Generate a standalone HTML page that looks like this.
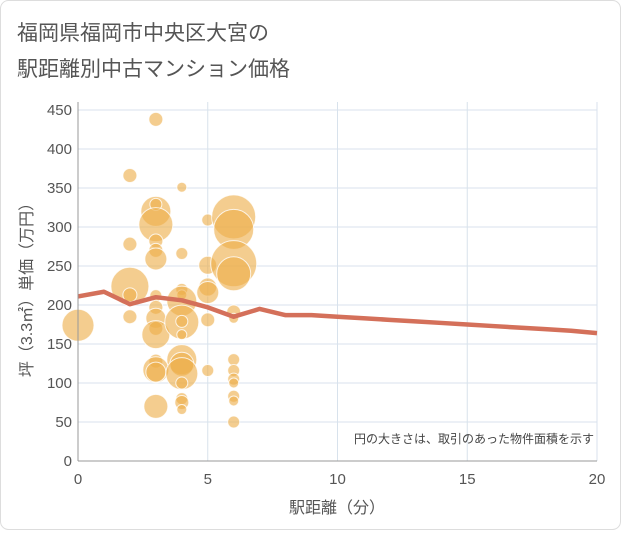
<!DOCTYPE html>
<html><head><meta charset="utf-8"><style>
body{margin:0;background:#fff;}
#c{position:relative;width:621px;height:530px;font-family:"Liberation Sans","Noto Sans CJK JP",sans-serif;}
svg text{font-family:"Liberation Sans","Noto Sans CJK JP",sans-serif;}
</style></head><body>
<div id="c">
<svg id="s" width="621" height="530">
<rect x="0.5" y="0.5" width="620" height="529" rx="8" fill="#fff" stroke="#ddd"/>
<text x="17" y="40" font-size="21" fill="#555">福岡県福岡市中央区大宮の</text>
<text x="17" y="76" font-size="21" fill="#555">駅距離別中古マンション価格</text>
<g id="grid"></g><g id="bub"></g><g id="ln"></g><g id="ax"></g>
<text x="594" y="443" font-size="12" fill="#444" text-anchor="end">円の大きさは、取引のあった物件面積を示す</text>
<text x="337" y="513" font-size="16" fill="#555" text-anchor="middle">駅距離（分）</text>
<text transform="translate(32,286) rotate(-90)" font-size="16" fill="#555" text-anchor="middle">坪（3.3㎡）単価（万円）</text>
</svg></div>
<script>
const xTicks=[0,5,10,15,20];
const yTicks=[0,50,100,150,200,250,300,350,400,450];
const bubbleX=[3,2,4,3,3,3,2,3,3,3,4,5,5,6,6,6,6,2,2,2,3,3,3,3,3,3,4,4,4,4,4,4,5,5,5,5,6,6,0,3,3,3,4,4,4,4,4,4,4,6,6,6,6,6,6,6];
const bubbleY=[438,366,351,320,329,303,278,282,270,259,266,309,251,313,297,253,240,224,213,185,212,197,183,170,162,128,220,213,205,178,179,162,223,216,181,116,191,183,174,117,114,70,130,124,112,100,80,75,66,130,116,105,100,83,77,50];
const bubbleR=[7,7,5,15,6,17,7,7,7,11,6,6,9,22,20,23,17,19,7,7,6,7,10,7,14,7,6,5,15,17,6,5,9,11,7,6,7,5,16,13,10,12,15,12,16,6,6,7,5,6,6,6,5,6,5,6];
const lineX=[0,1,2,3,4,5,6,7,8,9,10,11,12,13,14,15,16,17,18,19,20];
const lineY=[211,217,201,210,206,197,185,195,187,187,185,183,181,179,177,175,173,171,169,167,164];
const X0=78,X1=597,Y0=461,Y1=110;
const sx=v=>X0+(X1-X0)*v/20, sy=v=>Y0-(Y0-Y1)*v/450;
const NS="http://www.w3.org/2000/svg";
function mk(p,t,a){const e=document.createElementNS(NS,t);for(const k in a)e.setAttribute(k,a[k]);document.getElementById(p).appendChild(e);return e;}
for(const t of yTicks){
 const l=mk('grid','line',{x1:X0,x2:X1,y1:sy(t),y2:sy(t),stroke:'#d8e2ec','stroke-width':1});
 
 
 const tx=mk('ax','text',{x:X0-6,y:sy(t)+5,'font-size':15,fill:'#555','text-anchor':'end'});tx.textContent=t;
 
 
}
for(const t of xTicks){
 const l=mk('grid','line',{x1:sx(t),x2:sx(t),y1:Y1-8,y2:Y0,stroke:'#d8e2ec','stroke-width':1});
 
 
 const tx=mk('ax','text',{x:sx(t),y:Y0+23,'font-size':15,fill:'#555','text-anchor':'middle'});tx.textContent=t;
 
 
}
const a1=mk('ax','line',{x1:X0,x2:X0,y1:Y1-8,y2:Y0,stroke:'#999'});


const a2=mk('ax','line',{x1:X0,x2:X1,y1:Y0,y2:Y0,stroke:'#999'});


for(let i=0;i<bubbleX.length;i++){
 const c=mk('bub','circle',{cx:sx(bubbleX[i]),cy:sy(bubbleY[i]),r:bubbleR[i],fill:'rgba(238,175,75,0.62)',stroke:'rgba(255,255,255,0.8)','stroke-width':1});
 
 
}
const pl=mk('ln','polyline',{points:lineX.map((x,i)=>sx(x)+','+sy(lineY[i])).join(' '),fill:'none',stroke:'#d4705a','stroke-width':4.5,'stroke-linejoin':'round'});


</script>
</body></html>
